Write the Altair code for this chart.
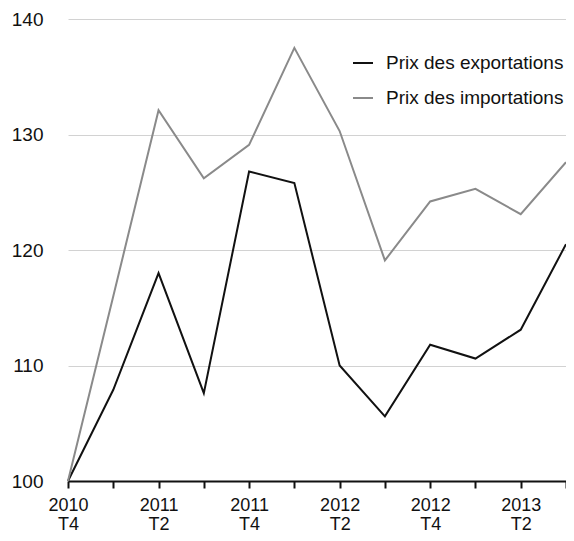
import altair as alt
import pandas as pd

quarters = ["2010 T4", "2011 T1", "2011 T2", "2011 T3", "2011 T4", "2012 T1",
            "2012 T2", "2012 T3", "2012 T4", "2013 T1", "2013 T2", "2013 T3"]
exports = [100.0, 107.9, 118.0, 107.6, 126.8, 125.8, 110.0, 105.6, 111.8, 110.6, 113.1, 120.5]
imports = [100.0, 116.0, 132.1, 126.2, 129.1, 137.5, 130.3, 119.1, 124.2, 125.3, 123.1, 127.6]
series_names = ["Prix des exportations", "Prix des importations"]
series_colors = ["#111111", "#8a8a8a"]
y_ticks = [100, 110, 120, 130, 140]

rows = []
for q, e, i in zip(quarters, exports, imports):
    rows.append({"trim": q, "serie": series_names[0], "val": e})
    rows.append({"trim": q, "serie": series_names[1], "val": i})
df = pd.DataFrame(rows)

FONT = "Liberation Sans"

chart = alt.Chart(df).mark_line(strokeWidth=2).encode(
    x=alt.X("trim:N", sort=quarters,
            scale=alt.Scale(type="point", padding=0),
            axis=alt.Axis(title=None, values=quarters, labelAngle=0,
                          labelExpr="(indexof(datum.value, 'T2') > 0 || indexof(datum.value, 'T4') > 0) ? split(datum.value, ' ') : ''",
                          labelFontSize=18, labelFont=FONT, labelColor="#111111",
                          labelLineHeight=19, labelPadding=8, tickSize=7,
                          tickColor="#111111", tickWidth=2,
                          domainColor="#111111", domainWidth=2, grid=False,
                          labelBaseline="top")),
    y=alt.Y("val:Q", scale=alt.Scale(domain=[100, 140], nice=False, zero=False),
            axis=alt.Axis(title=None, values=y_ticks, labelFontSize=19, labelFont=FONT,
                          labelColor="#111111", tickSize=0, labelPadding=25,
                          domain=False, gridColor="#d2d2d2", gridWidth=1)),
    color=alt.Color("serie:N", scale=alt.Scale(domain=series_names, range=series_colors),
                    legend=alt.Legend(title=None, orient="none", legendX=284, legendY=33,
                                      symbolType="stroke", symbolSize=400, symbolStrokeWidth=2,
                                      labelFontSize=19, labelFont=FONT, labelColor="#111111",
                                      labelLimit=400, rowPadding=14, labelOffset=12)),
).properties(
    width=498, height=462,
    padding={"left": 60, "top": 11, "right": 0, "bottom": 52},
    autosize=alt.AutoSizeParams(type="none"),
).configure_view(stroke=None)

chart.save("out.html", embed_options={"renderer": "svg", "actions": False})
